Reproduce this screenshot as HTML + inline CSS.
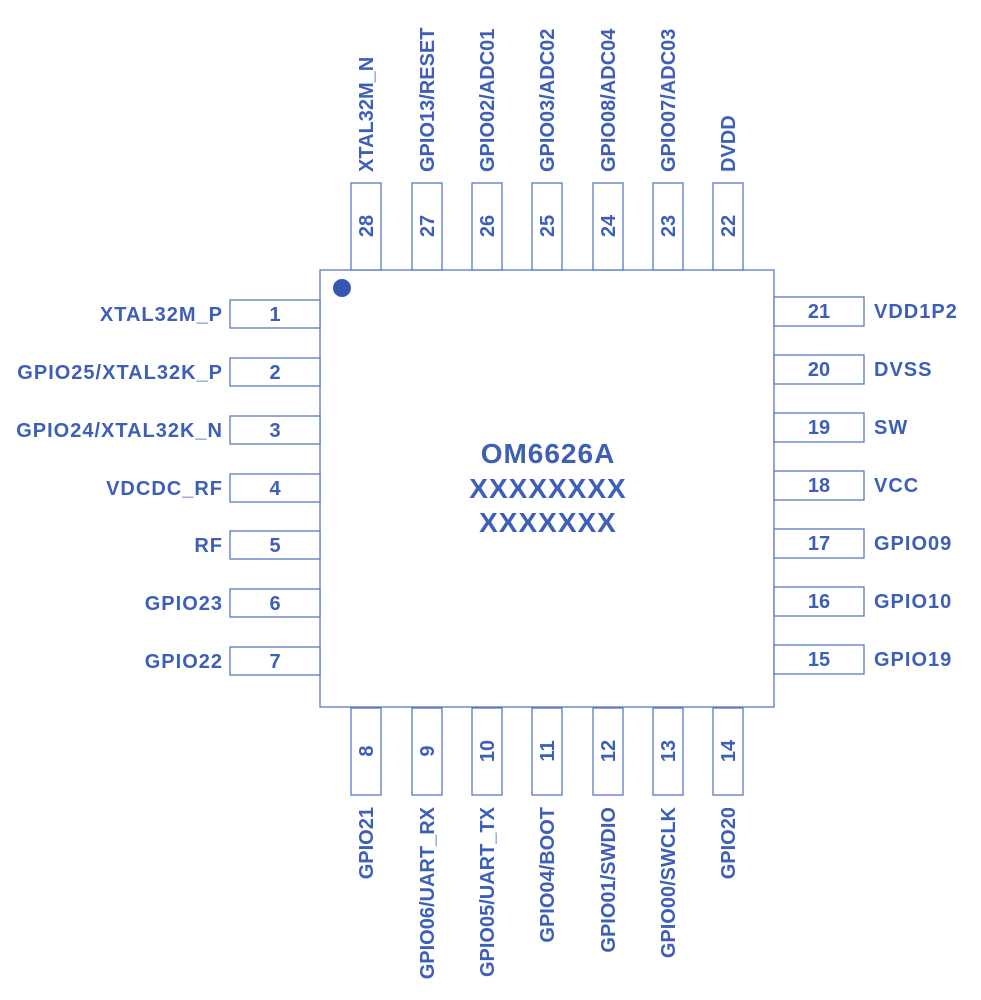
<!DOCTYPE html>
<html><head><meta charset="utf-8"><style>
html,body{margin:0;padding:0;background:#fff;}
svg{display:block;}
text{font-family:"Liberation Sans",Arial,sans-serif;font-weight:bold;fill:#3d5fb8;font-size:20px;}
text.l{letter-spacing:1px;}
rect{fill:#fff;stroke:#5a78c4;stroke-width:1.3;}
</style></head><body>
<svg width="981" height="1000" viewBox="0 0 981 1000">
<rect x="320" y="270" width="454" height="437"/>
<circle cx="342" cy="288" r="9" fill="#3558b8"/>
<g>
<rect x="230" y="300" width="90" height="28"/><text x="275" y="321" text-anchor="middle">1</text><text class="l" x="223" y="321" text-anchor="end">XTAL32M_P</text>
<rect x="230" y="358" width="90" height="28"/><text x="275" y="379" text-anchor="middle">2</text><text class="l" x="223" y="379" text-anchor="end">GPIO25/XTAL32K_P</text>
<rect x="230" y="416" width="90" height="28"/><text x="275" y="437" text-anchor="middle">3</text><text class="l" x="223" y="437" text-anchor="end">GPIO24/XTAL32K_N</text>
<rect x="230" y="474" width="90" height="28"/><text x="275" y="495" text-anchor="middle">4</text><text class="l" x="223" y="495" text-anchor="end">VDCDC_RF</text>
<rect x="230" y="531" width="90" height="28"/><text x="275" y="552" text-anchor="middle">5</text><text class="l" x="223" y="552" text-anchor="end">RF</text>
<rect x="230" y="589" width="90" height="28"/><text x="275" y="610" text-anchor="middle">6</text><text class="l" x="223" y="610" text-anchor="end">GPIO23</text>
<rect x="230" y="647" width="90" height="28"/><text x="275" y="668" text-anchor="middle">7</text><text class="l" x="223" y="668" text-anchor="end">GPIO22</text>
</g>
<g>
<rect x="774" y="297" width="90" height="29"/><text x="819" y="318" text-anchor="middle">21</text><text class="l" x="874" y="318">VDD1P2</text>
<rect x="774" y="355" width="90" height="29"/><text x="819" y="376" text-anchor="middle">20</text><text class="l" x="874" y="376">DVSS</text>
<rect x="774" y="413" width="90" height="29"/><text x="819" y="434" text-anchor="middle">19</text><text class="l" x="874" y="434">SW</text>
<rect x="774" y="471" width="90" height="29"/><text x="819" y="492" text-anchor="middle">18</text><text class="l" x="874" y="492">VCC</text>
<rect x="774" y="529" width="90" height="29"/><text x="819" y="550" text-anchor="middle">17</text><text class="l" x="874" y="550">GPIO09</text>
<rect x="774" y="587" width="90" height="29"/><text x="819" y="608" text-anchor="middle">16</text><text class="l" x="874" y="608">GPIO10</text>
<rect x="774" y="645" width="90" height="29"/><text x="819" y="666" text-anchor="middle">15</text><text class="l" x="874" y="666">GPIO19</text>
</g>
<g>
<rect x="351" y="183" width="30" height="87"/><text transform="translate(373,226) rotate(-90)" text-anchor="middle">28</text><text transform="translate(373,172) rotate(-90)">XTAL32M_N</text>
<rect x="412" y="183" width="30" height="87"/><text transform="translate(434,226) rotate(-90)" text-anchor="middle">27</text><text transform="translate(434,172) rotate(-90)">GPIO13/RESET</text>
<rect x="472" y="183" width="30" height="87"/><text transform="translate(494,226) rotate(-90)" text-anchor="middle">26</text><text transform="translate(494,172) rotate(-90)">GPIO02/ADC01</text>
<rect x="532" y="183" width="30" height="87"/><text transform="translate(554,226) rotate(-90)" text-anchor="middle">25</text><text transform="translate(554,172) rotate(-90)">GPIO03/ADC02</text>
<rect x="593" y="183" width="30" height="87"/><text transform="translate(615,226) rotate(-90)" text-anchor="middle">24</text><text transform="translate(615,172) rotate(-90)">GPIO08/ADC04</text>
<rect x="653" y="183" width="30" height="87"/><text transform="translate(675,226) rotate(-90)" text-anchor="middle">23</text><text transform="translate(675,172) rotate(-90)">GPIO07/ADC03</text>
<rect x="713" y="183" width="30" height="87"/><text transform="translate(735,226) rotate(-90)" text-anchor="middle">22</text><text transform="translate(735,172) rotate(-90)">DVDD</text>
</g>
<g>
<rect x="351" y="708" width="30" height="87"/><text transform="translate(373,751) rotate(-90)" text-anchor="middle">8</text><text transform="translate(373,807) rotate(-90)" text-anchor="end">GPIO21</text>
<rect x="412" y="708" width="30" height="87"/><text transform="translate(434,751) rotate(-90)" text-anchor="middle">9</text><text transform="translate(434,807) rotate(-90)" text-anchor="end">GPIO06/UART_RX</text>
<rect x="472" y="708" width="30" height="87"/><text transform="translate(494,751) rotate(-90)" text-anchor="middle">10</text><text transform="translate(494,807) rotate(-90)" text-anchor="end">GPIO05/UART_TX</text>
<rect x="532" y="708" width="30" height="87"/><text transform="translate(554,751) rotate(-90)" text-anchor="middle">11</text><text transform="translate(554,807) rotate(-90)" text-anchor="end">GPIO04/BOOT</text>
<rect x="593" y="708" width="30" height="87"/><text transform="translate(615,751) rotate(-90)" text-anchor="middle">12</text><text transform="translate(615,807) rotate(-90)" text-anchor="end">GPIO01/SWDIO</text>
<rect x="653" y="708" width="30" height="87"/><text transform="translate(675,751) rotate(-90)" text-anchor="middle">13</text><text transform="translate(675,807) rotate(-90)" text-anchor="end">GPIO00/SWCLK</text>
<rect x="713" y="708" width="30" height="87"/><text transform="translate(735,751) rotate(-90)" text-anchor="middle">14</text><text transform="translate(735,807) rotate(-90)" text-anchor="end">GPIO20</text>
</g>
<text x="548" y="463" text-anchor="middle" style="font-size:28px;letter-spacing:1px">OM6626A</text>
<text x="548" y="498" text-anchor="middle" style="font-size:28px;letter-spacing:1px">XXXXXXXX</text>
<text x="548" y="532" text-anchor="middle" style="font-size:28px;letter-spacing:1px">XXXXXXX</text>
</svg>
</body></html>
